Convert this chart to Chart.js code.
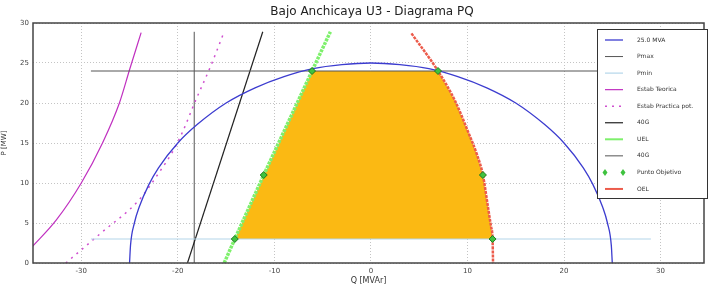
<!DOCTYPE html>
<html>
<head>
<meta charset="utf-8">
<script src="https://cdn.jsdelivr.net/npm/chart.js@4"></script>
<style>
  body { margin: 0; background: #fff; }
  #wrap { width: 709px; height: 286px; }
</style>
</head>
<body>
<div id="wrap"><canvas id="pq"></canvas></div>
<script>
const chartTitle = 'Bajo Anchicaya U3 - Diagrama PQ';

// 25 MVA capability circle (upper half)
const circleQ = [-25, -24.9, -24.5, -24, -23, -22, -20, -18, -15, -12, -9, -6, -3, 0, 3, 6, 9, 12, 15, 18, 20, 22, 23, 24, 24.5, 24.9, 25];
const circleP = [0, 2.2, 5, 7, 9.8, 11.9, 15, 17.3, 20, 21.9, 23.3, 24.3, 24.8, 25, 24.8, 24.3, 23.3, 21.9, 20, 17.3, 15, 11.9, 9.8, 7, 5, 2.2, 0];

const pmaxQ = [-29, 29];
const pmaxP = [24, 24];
const pminQ = [-29, 29];
const pminP = [3, 3];

const teoQ = [-35.1, -32.6, -30, -27.8, -26.05, -25, -23.8];
const teoP = [2, 5.35, 10, 15, 20, 24.15, 28.8];

const pracQ = [-31.6, -28, -24, -22, -20.5, -19.5, -18.2, -16.6, -15.2];
const pracP = [0, 3.7, 7.9, 11.2, 14, 16.4, 20.2, 24.6, 28.9];

const g40aQ = [-19, -11.2];
const g40aP = [0, 28.9];
const g40bQ = [-18.3, -18.3];
const g40bP = [0, 28.9];

const uelQ = [-15.2, -14.1, -11.1, -8.6, -6.1, -4.2];
const uelP = [0, 3, 11, 17.5, 24, 28.9];

const oelQ = [4.2, 6.95, 8.7, 10.1, 11.0, 11.6, 12.1, 12.45, 12.6, 12.65];
const oelP = [28.7, 24, 20.3, 16.3, 13.5, 11, 7.2, 4.5, 3, 0];

const areaQ = [-14.1, -6.1, 6.95, 8.7, 10.1, 11.0, 11.6, 12.1, 12.45, 12.6, -14.1];
const areaP = [3, 24, 24, 20.3, 16.3, 13.5, 11, 7.2, 4.5, 3, 3];

const targetQ = [-14.1, -11.1, -6.1, 6.95, 11.6, 12.6];
const targetP = [3, 11, 24, 24, 11, 3];

const pts = (qs, ps) => qs.map((q, i) => ({ x: q, y: ps[i] }));

function line(label, qs, ps, color, width, extra) {
  return Object.assign({
    label: label,
    data: pts(qs, ps),
    showLine: true,
    borderColor: color,
    backgroundColor: color,
    borderWidth: width,
    pointRadius: 0,
    fill: false,
    tension: 0,
    order: 1
  }, extra || {});
}

const datasets = [
  line('25.0 MVA', circleQ, circleP, '#3c3ccf', 1.3, { cubicInterpolationMode: 'monotone' }),
  line('Pmax', pmaxQ, pmaxP, '#555555', 1),
  line('Pmin', pminQ, pminP, '#b4d6ea', 1.2),
  line('Estab Teorica', teoQ, teoP, '#c030c0', 1.2, { cubicInterpolationMode: 'monotone' }),
  line('Estab Practica pot.', pracQ, pracP, '#d050d0', 1.5, { borderDash: [2, 5], cubicInterpolationMode: 'monotone' }),
  line('40G', g40aQ, g40aP, '#222222', 1.2),
  line('UEL', uelQ, uelP, '#7ef06c', 3.5, { borderDash: [3, 1] }),
  line('40G', g40bQ, g40bP, '#555555', 1),
  {
    label: 'Punto Objetivo',
    data: pts(targetQ, targetP),
    showLine: false,
    pointStyle: 'rectRot',
    pointRadius: 3.5,
    backgroundColor: '#3fc23f',
    borderColor: '#1e7a1e',
    borderWidth: 1,
    order: 0
  },
  line('OEL', oelQ, oelP, '#ec5b4b', 2.5, { borderDash: [3, 1], cubicInterpolationMode: 'monotone' }),
  line('', areaQ, areaP, 'rgba(0,0,0,0)', 0, { fill: 'shape', backgroundColor: '#fbb913', order: 2 })
];

const frame = {
  id: 'frame',
  afterDatasetsDraw(chart) {
    const { ctx, chartArea: a } = chart;
    ctx.save();
    ctx.strokeStyle = '#444';
    ctx.lineWidth = 1.5;
    ctx.strokeRect(a.left, a.top, a.right - a.left, a.bottom - a.top);

    // title
    ctx.fillStyle = '#222';
    ctx.font = '12px "DejaVu Sans"';
    ctx.textAlign = 'center';
    ctx.textBaseline = 'middle';
    ctx.fillText(chartTitle, 372, 12);

    // legend box
    const bx = 597, by = 29, bw = 110, bh = 169;
    ctx.fillStyle = '#fff';
    ctx.fillRect(bx, by, bw, bh);
    ctx.strokeStyle = '#333';
    ctx.lineWidth = 1;
    ctx.strokeRect(bx + 0.5, by + 0.5, bw, bh);
    ctx.font = '6px "DejaVu Sans"';
    ctx.textAlign = 'left';
    let y = 40;
    chart.data.datasets.filter(d => d.label).forEach(d => {
      if (d.showLine === false) {
        [605, 623].forEach(px => {
          ctx.beginPath();
          ctx.moveTo(px, y - 3.5); ctx.lineTo(px + 2.5, y);
          ctx.lineTo(px, y + 3.5); ctx.lineTo(px - 2.5, y);
          ctx.closePath();
          ctx.fillStyle = d.backgroundColor;
          ctx.fill();
        });
      } else {
        ctx.beginPath();
        ctx.setLineDash(d.label === 'Estab Practica pot.' ? [2, 5] : []);
        ctx.strokeStyle = d.borderColor;
        ctx.lineWidth = Math.min(d.borderWidth, 2);
        ctx.moveTo(605, y); ctx.lineTo(623, y);
        ctx.stroke();
        ctx.setLineDash([]);
      }
      ctx.fillStyle = '#333';
      ctx.fillText(d.label, 637, y);
      y += 16.55;
    });
    ctx.restore();
  }
};

new Chart(document.getElementById('pq'), {
  type: 'scatter',
  data: { datasets: datasets },
  options: {
    responsive: true,
    maintainAspectRatio: false,
    animation: false,
    layout: { padding: { top: 23, right: 1, left: 0, bottom: 0 } },
    plugins: { legend: { display: false }, tooltip: { enabled: false } },
    scales: {
      x: {
        type: 'linear',
        min: -35,
        max: 34.5,
        afterFit(s) { s.height = 23; },
        afterBuildTicks(s) { s.ticks = [-30, -20, -10, 0, 10, 20, 30].map(v => ({ value: v })); },
        grid: { color: '#c4c4c4', drawTicks: false },
        border: { display: false, dash: [1, 2] },
        ticks: { color: '#444', font: { size: 7, family: 'DejaVu Sans' }, padding: 4, maxRotation: 0 },
        title: { display: true, text: 'Q [MVAr]', color: '#333', font: { size: 8, family: 'DejaVu Sans' }, padding: 0 }
      },
      y: {
        type: 'linear',
        min: 0,
        max: 30,
        afterFit(s) { s.width = 33; },
        grid: { color: '#c4c4c4', drawTicks: false },
        border: { display: false, dash: [1, 2] },
        ticks: { stepSize: 5, color: '#444', font: { size: 7, family: 'DejaVu Sans' }, padding: 4 },
        title: { display: true, text: 'P [MW]', color: '#333', font: { size: 7, family: 'DejaVu Sans' }, padding: 0 }
      }
    }
  },
  plugins: [frame]
});
</script>
</body>
</html>
